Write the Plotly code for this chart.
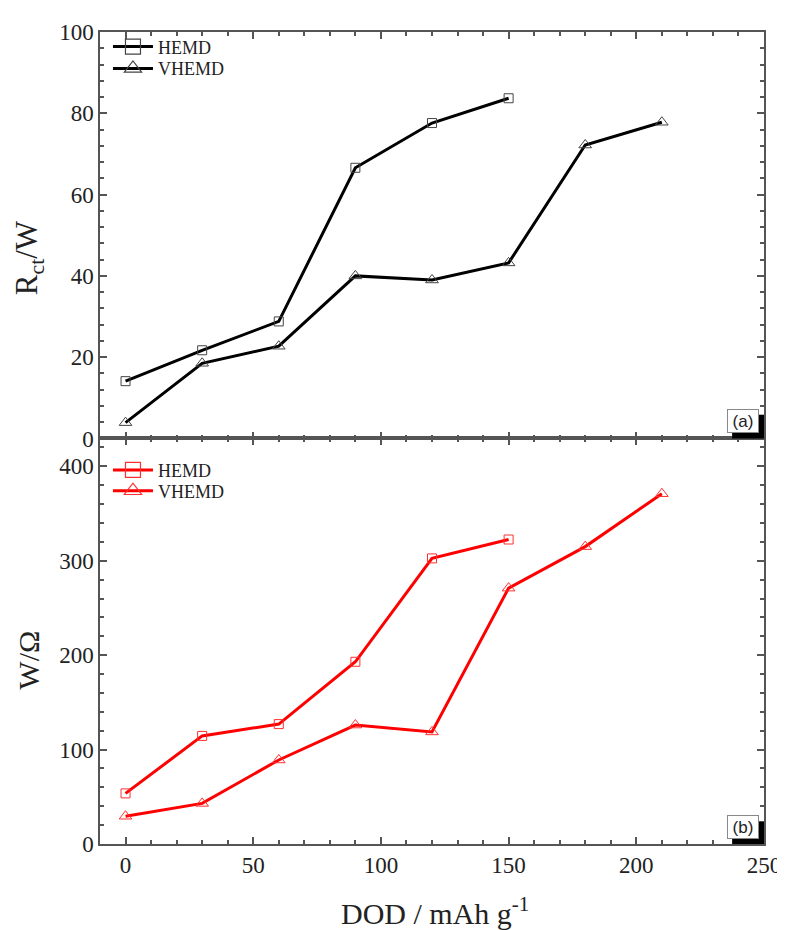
import plotly.graph_objects as go

dod_hemd = [0, 30, 60, 90, 120, 150]
dod_vhemd = [0, 30, 60, 90, 120, 150, 180, 210]
rct_hemd = [14.1, 21.7, 28.8, 66.6, 77.6, 83.7]
rct_vhemd = [3.9, 18.5, 22.7, 40.0, 39.0, 43.2, 72.2, 77.8]
w_hemd = [53.6, 114.5, 127.0, 193.0, 302.5, 322.5]
w_vhemd = [29.4, 43.0, 89.0, 126.0, 118.7, 271.0, 315.0, 371.0]
series_names = ["HEMD", "VHEMD"]

SERIF = "Liberation Serif"
fig = go.Figure()


def px(x):
    return (x - 100) / 665


def py(y):
    return (844 - y) / 819


panels = [
    ("x", "y", ["legend", "legend2"], "black", "#444", [rct_hemd, rct_vhemd]),
    ("x2", "y2", ["legend3", "legend4"], "#ff0000", "#ff3030", [w_hemd, w_vhemd]),
]
symbols = ["square-open", "triangle-up-open"]
sizes = [9, 11]
xs = [dod_hemd, dod_vhemd]
for xa, ya, lgs, lc, mc, ys in panels:
    for i in range(2):
        fig.add_trace(go.Scatter(x=xs[i], y=ys[i], name=series_names[i], mode="lines+markers",
                                 line=dict(color=lc, width=3),
                                 marker=dict(symbol=symbols[i], size=sizes[i], color=mc,
                                             line=dict(width=1)),
                                 xaxis=xa, yaxis=ya, showlegend=False))
        # legend-only entry with larger symbols
        fig.add_trace(go.Scatter(x=[None], y=[None], name=series_names[i], mode="lines+markers",
                                 line=dict(color=lc, width=3),
                                 marker=dict(symbol=symbols[i], size=15, color=mc,
                                             line=dict(width=1.2)),
                                 xaxis=xa, yaxis=ya, legend=lgs[i], showlegend=True))

split = 0.4994
axcol = "#555"
common_x = dict(range=[-10, 250], dtick=50, ticks="inside", ticklen=7, tickwidth=1.5,
                tickcolor=axcol, showline=True, linecolor=axcol, linewidth=1.5, mirror="ticks",
                showgrid=False, zeroline=False,
                minor=dict(dtick=10, ticks="inside", ticklen=4, tickcolor=axcol, showgrid=False),
                tickfont=dict(family=SERIF, size=23, color="#222"))
common_y = dict(ticks="inside", ticklen=7, tickwidth=1.5, tickcolor=axcol, showline=True,
                linecolor=axcol, linewidth=1.5, mirror="ticks", showgrid=False, zeroline=False,
                tickfont=dict(family=SERIF, size=23, color="#222"))

leg_common = dict(x=0.012, xanchor="left", yanchor="middle", bgcolor="rgba(0,0,0,0)",
                  font=dict(family=SERIF, size=18, color="#222"), tracegroupgap=0,
                  itemwidth=40)

fig.update_layout(
    width=785, height=930,
    margin=dict(l=92, r=28, t=17, b=94),
    plot_bgcolor="white", paper_bgcolor="white",
    xaxis=dict(common_x, domain=[0, 1], anchor="y", showticklabels=False),
    yaxis=dict(common_y, domain=[split, 1], anchor="x", range=[0, 100], dtick=20,
               minor=dict(dtick=4, ticks="inside", ticklen=4, tickcolor=axcol, showgrid=False)),
    xaxis2=dict(common_x, domain=[0, 1], anchor="y2"),
    yaxis2=dict(common_y, domain=[0, split], anchor="x2", range=[0, 429.5], dtick=100,
                minor=dict(dtick=20, ticks="inside", ticklen=4, tickcolor=axcol, showgrid=False)),
    legend=dict(leg_common, y=py(40)),
    legend2=dict(leg_common, y=py(62)),
    legend3=dict(leg_common, y=py(467)),
    legend4=dict(leg_common, y=py(488)),
    showlegend=True,
)

fig.add_annotation(text="R<sub>ct</sub>/W", xref="paper", yref="paper", x=px(29), y=py(253),
                   xanchor="center", yanchor="middle", borderpad=0,
                   textangle=-90, showarrow=False, font=dict(family=SERIF, size=31, color="#222"))
fig.add_annotation(text="W/Ω", xref="paper", yref="paper", x=px(28), y=py(659),
                   xanchor="center", yanchor="middle", borderpad=0,
                   textangle=-90, showarrow=False, font=dict(family=SERIF, size=30, color="#222"))
fig.add_annotation(text="DOD / mAh g<sup>-1</sup>", xref="paper", yref="paper",
                   x=px(436), y=py(912), xanchor="center", yanchor="middle", showarrow=False,
                   font=dict(family=SERIF, size=30, color="#222"))

# panel labels with drop shadow
for xd, yd, lab, sh_y1, bx_y in [("x domain", "y domain", "(a)", 0.0585, 0.044),
                                 ("x2 domain", "y2 domain", "(b)", 0.056, 0.043)]:
    fig.add_shape(type="rect", xref=xd, yref=yd, x0=0.952, x1=1.0, y0=0.0, y1=sh_y1,
                  fillcolor="black", line=dict(width=0))
    fig.add_annotation(text=lab, xref=xd, yref=yd, x=0.968, y=bx_y, showarrow=False,
                       xanchor="center", yanchor="middle",
                       width=30, height=22, borderpad=0,
                       bgcolor="white", bordercolor="#888", borderwidth=1,
                       font=dict(family="Liberation Sans", size=17, color="#222"))

fig.write_html("out.html")
